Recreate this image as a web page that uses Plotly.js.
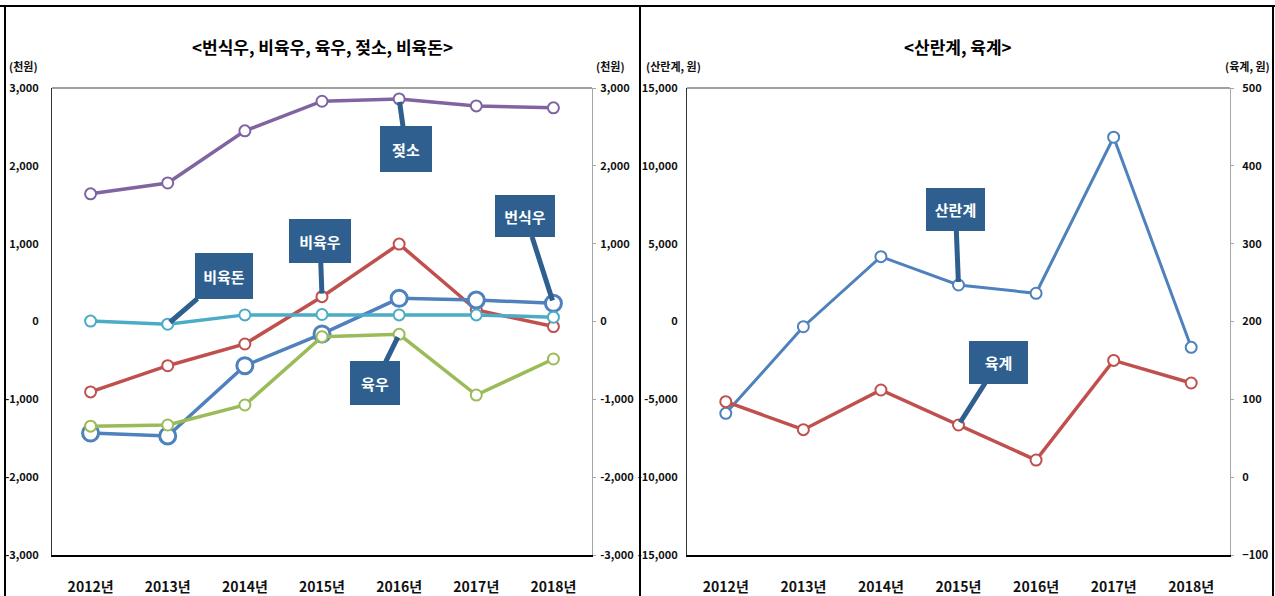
<!DOCTYPE html>
<html>
<head>
<meta charset="utf-8">
<script src="https://cdn.plot.ly/plotly-3.0.1.min.js"></script>
<style>html,body{margin:0;padding:0;background:#fff;}#chart{width:1275px;height:596px;}</style>
</head>
<body>
<div id="chart"></div>
<script>
// ---- data ----
const years = ['2012년','2013년','2014년','2015년','2016년','2017년','2018년'];
// left panel (천원)
const dairyCow   = [1640, 1780, 2450, 2830, 2860, 2770, 2745];   // 젖소
const fattenCow  = [-905, -568, -289, 319, 995, 148, -65];       // 비육우
const breedCow   = [-1433, -1470, -568, -160, 298, 276, 234];    // 번식우
const beefCow    = [-1345, -1330, -1073, -195, -165, -945, -482];// 육우
const fattenPig  = [5, -35, 85, 90, 85, 85, 55];                 // 비육돈
// right panel (원)
const layerHen   = [-5900, -334, 4165, 2346, 1812, 11838, -1658]; // 산란계 (left axis)
const broiler    = [97, 61, 112, 67, 22, 150, 121];                // 육계 (right axis)

const leftTicks  = [-3000,-2000,-1000,0,1000,2000,3000];
const leftTickText = ['-3,000','-2,000','-1,000','0','1,000','2,000','3,000'];
const r1Ticks = [-15000,-10000,-5000,0,5000,10000,15000];
const r1TickText = ['-15,000','-10,000','-5,000','0','5,000','10,000','15,000'];
const r2Ticks = [-100,0,100,200,300,400,500];

const W = 1275, H = 596;
const KFONT = '"Noto Sans CJK KR", "Noto Sans", sans-serif';
const NFONT = '"Liberation Sans Narrow", "Noto Sans CJK KR", sans-serif';

function line(x, y, color, xa, ya, msize, mline, lw) {
  return {x: x, y: y, xaxis: xa, yaxis: ya, type: 'scatter', mode: 'lines+markers',
    line: {color: color, width: lw},
    marker: {symbol: 'circle', size: msize, color: '#ffffff', line: {color: color, width: mline}},
    hoverinfo: 'skip', showlegend: false, cliponaxis: false};
}

const data = [
  line(years, dairyCow, '#8064A2', 'x', 'y', 11, 2, 3.5),
  line(years, fattenCow, '#C0504D', 'x', 'y', 11, 2, 3.5),
  line(years, breedCow, '#4F81BD', 'x', 'y', 16, 3, 3.5),
  line(years, beefCow, '#9BBB59', 'x', 'y', 11, 2, 3.5),
  line(years, fattenPig, '#4BACC6', 'x', 'y', 11, 2, 3.5),
  line(years, layerHen, '#4F81BD', 'x2', 'y3', 11, 2, 3),
  line(years, broiler, '#C0504D', 'x2', 'y4', 11, 2, 3.5),
  // dummy trace for the right-hand duplicate axis of left panel
  {x: [years[0]], y: [0], xaxis: 'x', yaxis: 'y2', type: 'scatter', mode: 'markers', marker: {opacity: 0}, hoverinfo: 'skip', showlegend: false}
];

const yDom = [1 - 555/H, 1 - 88/H];
const xTickFont = {family: KFONT, size: 14, color: '#111', weight: 'bold'};
const yTickFont = {family: NFONT, size: 11, color: '#111', weight: 'bold'};

const layout = {
  width: W, height: H,
  margin: {l: 0, r: 0, t: 0, b: 0},
  paper_bgcolor: '#ffffff', plot_bgcolor: 'rgba(0,0,0,0)',
  showlegend: false,
  xaxis: {domain: [52/W, 592/W], type: 'category', range: [-0.5, 6.5], anchor: 'y',
    showline: true, linecolor: '#000', linewidth: 2, ticks: '', showgrid: false, zeroline: false,
    tickfont: xTickFont, ticklabelstandoff: 18, fixedrange: true},
  yaxis: {domain: yDom, range: [-3000, 3000], anchor: 'x', tickvals: leftTicks, ticktext: leftTickText,
    showline: true, linecolor: '#333', linewidth: 1, ticks: '', showgrid: false, zeroline: false,
    tickfont: yTickFont, ticklabelstandoff: 10},
  yaxis2: {domain: yDom, range: [-3000, 3000], overlaying: 'y', side: 'right', anchor: 'x',
    tickvals: leftTicks, ticktext: leftTickText,
    showline: true, linecolor: '#a6a6a6', linewidth: 1, ticks: 'outside', ticklen: 3, tickcolor: '#a6a6a6',
    showgrid: false, zeroline: false, tickfont: yTickFont, ticklabelstandoff: 2},
  xaxis2: {domain: [687/W, 1230/W], type: 'category', range: [-0.5, 6.5], anchor: 'y3',
    showline: true, linecolor: '#000', linewidth: 2, ticks: '', showgrid: false, zeroline: false,
    tickfont: xTickFont, ticklabelstandoff: 18},
  yaxis3: {domain: yDom, range: [-15000, 15000], anchor: 'x2', tickvals: r1Ticks, ticktext: r1TickText,
    showline: true, linecolor: '#333', linewidth: 1, ticks: '', showgrid: false, zeroline: false,
    tickfont: yTickFont, ticklabelstandoff: 6},
  yaxis4: {domain: yDom, range: [-100, 500], overlaying: 'y3', side: 'right', anchor: 'x2',
    tickvals: r2Ticks,
    showline: true, linecolor: '#a6a6a6', linewidth: 1, ticks: 'outside', ticklen: 3, tickcolor: '#a6a6a6',
    showgrid: false, zeroline: false, tickfont: yTickFont, ticklabelstandoff: 6},
  shapes: [
    // panel frames
    {type: 'line', xref: 'paper', yref: 'paper', x0: 0, x1: 1, y0: 1 - 6/H, y1: 1 - 6/H, line: {color: '#000', width: 2}},
    {type: 'line', xref: 'paper', yref: 'paper', x0: 5/W, x1: 5/W, y0: 0, y1: 1 - 6/H, line: {color: '#000', width: 2}},
    {type: 'line', xref: 'paper', yref: 'paper', x0: 640/W, x1: 640/W, y0: 0, y1: 1 - 6/H, line: {color: '#000', width: 2}},
    {type: 'line', xref: 'paper', yref: 'paper', x0: 1273/W, x1: 1273/W, y0: 0, y1: 1 - 6/H, line: {color: '#000', width: 2}},
    // plot-area top lines
    {type: 'line', xref: 'x domain', yref: 'paper', x0: 0, x1: 1, y0: yDom[1], y1: yDom[1], line: {color: '#444', width: 1.2}},
    {type: 'line', xref: 'x2 domain', yref: 'paper', x0: 0, x1: 1, y0: yDom[1], y1: yDom[1], line: {color: '#444', width: 1.2}}
  ],
  annotations: []
};

const titleFont = {family: KFONT, size: 17, color: '#000'};
const unitFont = {family: KFONT, size: 11, color: '#111', weight: 'bold'};
layout.annotations.push(
  {text: '<b>&lt;번식우, 비육우, 육우, 젖소, 비육돈&gt;</b>', xref: 'paper', yref: 'paper', x: 322/W, y: 1 - 46/H, showarrow: false, font: titleFont, xanchor: 'center', yanchor: 'middle'},
  {text: '<b>&lt;산란계, 육계&gt;</b>', xref: 'paper', yref: 'paper', x: 958/W, y: 1 - 46/H, showarrow: false, font: titleFont, xanchor: 'center', yanchor: 'middle'},
  {text: '(천원)', xref: 'paper', yref: 'paper', x: 24/W, y: 1 - 66/H, showarrow: false, font: unitFont, xanchor: 'center', yanchor: 'middle'},
  {text: '(천원)', xref: 'paper', yref: 'paper', x: 610/W, y: 1 - 66/H, showarrow: false, font: unitFont, xanchor: 'center', yanchor: 'middle'},
  {text: '(산란계, 원)', xref: 'paper', yref: 'paper', x: 673/W, y: 1 - 66/H, showarrow: false, font: unitFont, xanchor: 'center', yanchor: 'middle'},
  {text: '(육계, 원)', xref: 'paper', yref: 'paper', x: 1247/W, y: 1 - 66/H, showarrow: false, font: unitFont, xanchor: 'center', yanchor: 'middle'}
);

const boxColor = '#2E5F8F';
function callout(label, xa, ya, xv, yv, ax, ay, w, h) {
  return {text: '<b>' + label + '</b>', xref: xa, yref: ya, x: xv, y: yv, ax: ax, ay: ay,
    showarrow: true, arrowhead: 0, arrowwidth: 5, arrowcolor: boxColor, standoff: 3,
    bgcolor: boxColor, bordercolor: boxColor, borderwidth: 1, width: w, height: h,
    font: {family: KFONT, size: 15, color: '#ffffff'}, align: 'center', valign: 'middle'};
}
layout.annotations.push(
  callout('젖소', 'x', 'y', years[4], dairyCow[4], 7, 50, 48, 42),
  callout('비육우', 'x', 'y', years[3], fattenCow[3], -2, -56, 58, 40),
  callout('비육돈', 'x', 'y', years[1], fattenPig[1], 56, -48, 54, 42),
  callout('번식우', 'x', 'y', years[6], breedCow[6], -28, -87, 56, 38),
  callout('육우', 'x', 'y', years[4], beefCow[4], -24, 49, 46, 40),
  callout('산란계', 'x2', 'y3', years[3], layerHen[3], -3, -75, 55, 39),
  callout('육계', 'x2', 'y4', years[3], broiler[3], 40, -63, 55, 39)
);

Plotly.newPlot('chart', data, layout, {staticPlot: true, displayModeBar: false});
</script>
</body>
</html>
